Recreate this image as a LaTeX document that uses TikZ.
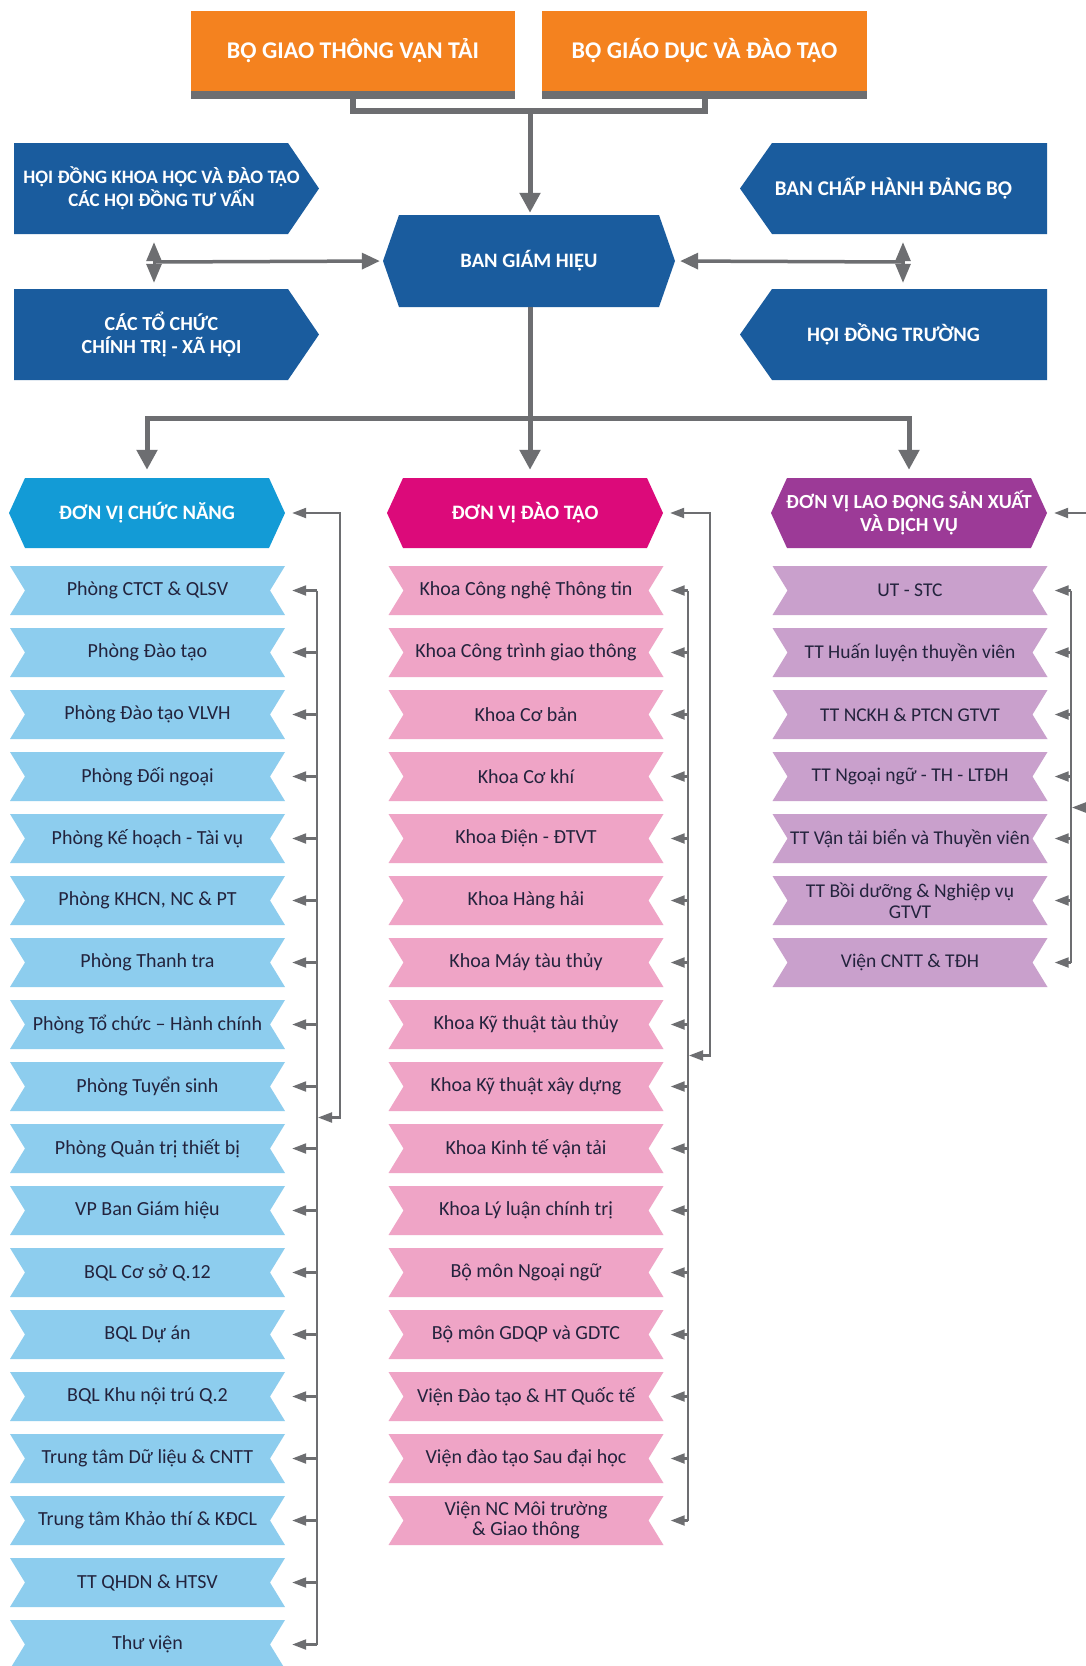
\documentclass[tikz,border=0pt]{standalone}
\usepackage{fontspec}
\setmainfont{Carlito}
\usetikzlibrary{arrows.meta,calc}
\definecolor{orng}{HTML}{F4821F}
\definecolor{stripc}{HTML}{6D6E71}
\definecolor{dblue}{HTML}{1A5C9E}
\definecolor{cyanh}{HTML}{139BD6}
\definecolor{lblue}{HTML}{8DCDEE}
\definecolor{magh}{HTML}{DC0A7A}
\definecolor{lpink}{HTML}{EFA4C6}
\definecolor{purh}{HTML}{9C3A97}
\definecolor{lpur}{HTML}{C9A0CC}
\definecolor{lgray}{HTML}{6D6E71}
\definecolor{txtc}{HTML}{23233D}
\tikzset{
  every node/.style={inner sep=0pt, align=center},
  itembox/.style={minimum width=275pt, minimum height=49pt, text=txtc,
    font=\fontsize{20}{20.5}\selectfont,
    path picture={\fill[#1] (path picture bounding box.north west) -- (path picture bounding box.north east)
      -- ([xshift=-15pt]path picture bounding box.east) -- (path picture bounding box.south east)
      -- (path picture bounding box.south west) -- ([xshift=15pt]path picture bounding box.west) -- cycle;}},
  hexbox/.style={minimum height=70pt, text=white,
    font=\bfseries\fontsize{20.5}{23.5}\selectfont,
    path picture={\fill[#1] (path picture bounding box.west) -- ([xshift=16pt]path picture bounding box.north west)
      -- ([xshift=-16pt]path picture bounding box.north east) -- (path picture bounding box.east)
      -- ([xshift=-16pt]path picture bounding box.south east) -- ([xshift=16pt]path picture bounding box.south west) -- cycle;}},
  rbox/.style={minimum width=305pt, minimum height=91pt, text=white,
    font=\bfseries\fontsize{20}{23}\selectfont,
    path picture={\fill[dblue] (path picture bounding box.north west) -- ([xshift=-31pt]path picture bounding box.north east)
      -- (path picture bounding box.east) -- ([xshift=-31pt]path picture bounding box.south east)
      -- (path picture bounding box.south west) -- cycle;}},
  lbox/.style={minimum width=307pt, minimum height=91pt, text=white,
    font=\bfseries\fontsize{21}{23}\selectfont,
    path picture={\fill[dblue] (path picture bounding box.west) -- ([xshift=32pt]path picture bounding box.north west)
      -- (path picture bounding box.north east) -- (path picture bounding box.south east)
      -- ([xshift=32pt]path picture bounding box.south west) -- cycle;}},
  topbox/.style={fill=orng, minimum height=80pt, text=white,
    font=\bfseries\fontsize{24}{26}\selectfont},
  trunk/.style={draw=lgray, line width=5pt},
  bigarrow/.style={-{Triangle[width=20pt,length=20pt]}},
  dblarrow/.style={draw=lgray, line width=3pt,
    {Triangle[width=15pt,length=19pt]}-{Triangle[width=15pt,length=19pt]}},
  midline/.style={draw=lgray, line width=3.5pt, -{Triangle[width=16pt,length=18pt]}},
  conn/.style={draw=lgray, line width=2.2pt},
  sarrow/.style={-{Triangle[width=10pt,length=14pt]}},
  sboth/.style={{Triangle[width=10pt,length=14pt]}-{Triangle[width=10pt,length=14pt]}},
}
\begin{document}
\begin{tikzpicture}[x=1pt,y=-1pt]
\fill[white] (0,0) rectangle (1086,1666);
\useasboundingbox (0,0) rectangle (1086,1666);

% top boxes
\node[topbox, minimum width=324pt] (o1) at (353,51) {BỘ GIAO THÔNG VẬN TẢI};
\node[topbox, minimum width=325pt] (o2) at (704.5,51) {BỘ GIÁO DỤC VÀ ĐÀO TẠO};
\fill[stripc] (o1.south west) rectangle ([yshift=-8pt]o1.south east);
\fill[stripc] (o2.south west) rectangle ([yshift=-8pt]o2.south east);

% side boxes and center
\node[rbox, font=\bfseries\fontsize{19}{23}\selectfont] (hd) at (166.5,188.5)
  {HỘI ĐỒNG KHOA HỌC VÀ ĐÀO TẠO\hspace*{10pt}\\CÁC HỘI ĐỒNG TƯ VẤN\hspace*{10pt}};
\node[rbox] (ct) at (166.5,334.5) {CÁC TỔ CHỨC\hspace*{10pt}\\CHÍNH TRỊ - XÃ HỘI\hspace*{10pt}};
\node[lbox] (bch) at (893.5,188.5) {BAN CHẤP HÀNH ĐẢNG BỘ};
\node[lbox, font=\bfseries\fontsize{20.5}{23}\selectfont] (hdt) at (893.5,334.5) {HỘI ĐỒNG TRƯỜNG};
\node[hexbox=dblue, minimum width=292pt, minimum height=92pt] (bgh) at (529,261) {BAN GIÁM HIỆU};

% column headers
\node[hexbox=cyanh, minimum width=276pt] (h1) at (147,513) {ĐƠN VỊ CHỨC NĂNG};
\node[hexbox=magh, minimum width=276pt] (h2) at (525,513) {ĐƠN VỊ ĐÀO TẠO};
\node[hexbox=purh, minimum width=276pt, font=\bfseries\fontsize{20}{23.5}\selectfont] (h3) at (909,513) {ĐƠN VỊ LAO ĐỘNG SẢN XUẤT\\VÀ DỊCH VỤ};

% column 1 items
\foreach \t [count=\i] in {Phòng CTCT \& QLSV, Phòng Đào tạo, Phòng Đào tạo VLVH, Phòng Đối ngoại,
  Phòng Kế hoạch - Tài vụ, {Phòng KHCN, NC \& PT}, Phòng Thanh tra, Phòng Tổ chức -- Hành chính,
  Phòng Tuyển sinh, Phòng Quản trị thiết bị, VP Ban Giám hiệu, BQL Cơ sở Q.12, BQL Dự án,
  BQL Khu nội trú Q.2, Trung tâm Dữ liệu \& CNTT, Trung tâm Khảo thí \& KĐCL, TT QHDN \& HTSV, Thư viện}
  \node[itembox=lblue] (a\i) at (147.5,{590.5+62*(\i-1)}) {\t};

% column 2 items
\foreach \t [count=\i] in {Khoa Công nghệ Thông tin, Khoa Công trình giao thông, Khoa Cơ bản, Khoa Cơ khí,
  Khoa Điện - ĐTVT, Khoa Hàng hải, Khoa Máy tàu thủy, Khoa Kỹ thuật tàu thủy, Khoa Kỹ thuật xây dựng,
  Khoa Kinh tế vận tải, Khoa Lý luận chính trị, Bộ môn Ngoại ngữ, Bộ môn GDQP và GDTC,
  Viện Đào tạo \& HT Quốc tế, Viện đào tạo Sau đại học, {Viện NC Môi trường\\\& Giao thông}}
  \node[itembox=lpink] (b\i) at (526,{590.5+62*(\i-1)}) {\t};

% column 3 items
\foreach \t [count=\i] in {UT - STC, TT Huấn luyện thuyền viên, TT NCKH \& PTCN GTVT,
  TT Ngoại ngữ - TH - LTĐH, TT Vận tải biển và Thuyền viên, {TT Bồi dưỡng \& Nghiệp vụ\\GTVT},
  Viện CNTT \& TĐH}
  \node[itembox=lpur, font=\fontsize{19.5}{20.5}\selectfont] (c\i) at (910,{590.5+62*(\i-1)}) {\t};

% top connectors
\coordinate (jn) at (530,111);
\draw[trunk, line width=6pt] ([yshift=-8pt]o1.south) |- (jn) -| ([yshift=-8pt]o2.south);
\draw[trunk, bigarrow, shorten >=2pt] (jn) -- (jn |- bgh.north);

% side connectors
\coordinate (lc) at (154,262);
\coordinate (rc) at (903,262);
\path (hd.south -| lc) ++(0,8) coordinate (lu);
\path (ct.north -| lc) ++(0,-6) coordinate (ld);
\path (bch.south -| rc) ++(0,8) coordinate (ru);
\path (hdt.north -| rc) ++(0,-6) coordinate (rd);
\draw[dblarrow] (lu) -- (ld);
\draw[dblarrow] (ru) -- (rd);
\draw[midline, shorten >=3pt] (lc) -- (bgh.west);
\draw[midline, shorten >=5pt] (rc) -- (bgh.east);

% trunk to columns
\coordinate (hb) at (530,418);
\path (hb |- h2.north) coordinate (h2t);
\draw[trunk] (hb |- bgh.south) -- (hb);
\draw[trunk, {Triangle[width=20pt,length=20pt]}-{Triangle[width=20pt,length=20pt]}]
  ([yshift=8pt]h1.north) -- (h1.north |- hb) -- (h3.north |- hb) -- ([yshift=8pt]h3.north);
\draw[trunk, bigarrow] (hb) -- ([yshift=8pt]h2t);

% column 1 connectors
\coordinate (i1) at (317,0);
\coordinate (e1) at (340,0);
\foreach \i in {1,...,18} \draw[conn, sarrow] (a\i.east -| i1) -- ([xshift=7pt]a\i.east);
\draw[conn] (a1.east -| i1) -- (a18.east -| i1);
\path ($(a1.east)!0.5!(a18.east)$) coordinate (m1);
\draw[conn, sboth, shorten >=1pt] ([xshift=7pt]h1.east) -- (h1.east -| e1) -- (m1 -| e1) -- (m1 -| i1);

% column 2 connectors
\coordinate (i2) at (688,0);
\coordinate (e2) at (710,0);
\foreach \i in {1,...,16} \draw[conn, sarrow] (b\i.east -| i2) -- ([xshift=7pt]b\i.east);
\draw[conn] (b1.east -| i2) -- (b16.east -| i2);
\path ($(b1.east)!0.5!(b16.east)$) coordinate (m2);
\draw[conn, sboth, shorten >=1pt] ([xshift=7pt]h2.east) -- (h2.east -| e2) -- (m2 -| e2) -- (m2 -| i2);

% column 3 connectors
\coordinate (i3) at (1071,0);
\coordinate (e3) at (1094,0);
\foreach \i in {1,...,7} \draw[conn, sarrow] (c\i.east -| i3) -- ([xshift=7pt]c\i.east);
\draw[conn] (c1.east -| i3) -- (c7.east -| i3);
\path ($(c4.east)!0.5!(c5.east)$) coordinate (m3);
\draw[conn, sboth, shorten >=1pt] ([xshift=7pt]h3.east) -- (h3.east -| e3) -- (m3 -| e3) -- (m3 -| i3);
\end{tikzpicture}
\end{document}
